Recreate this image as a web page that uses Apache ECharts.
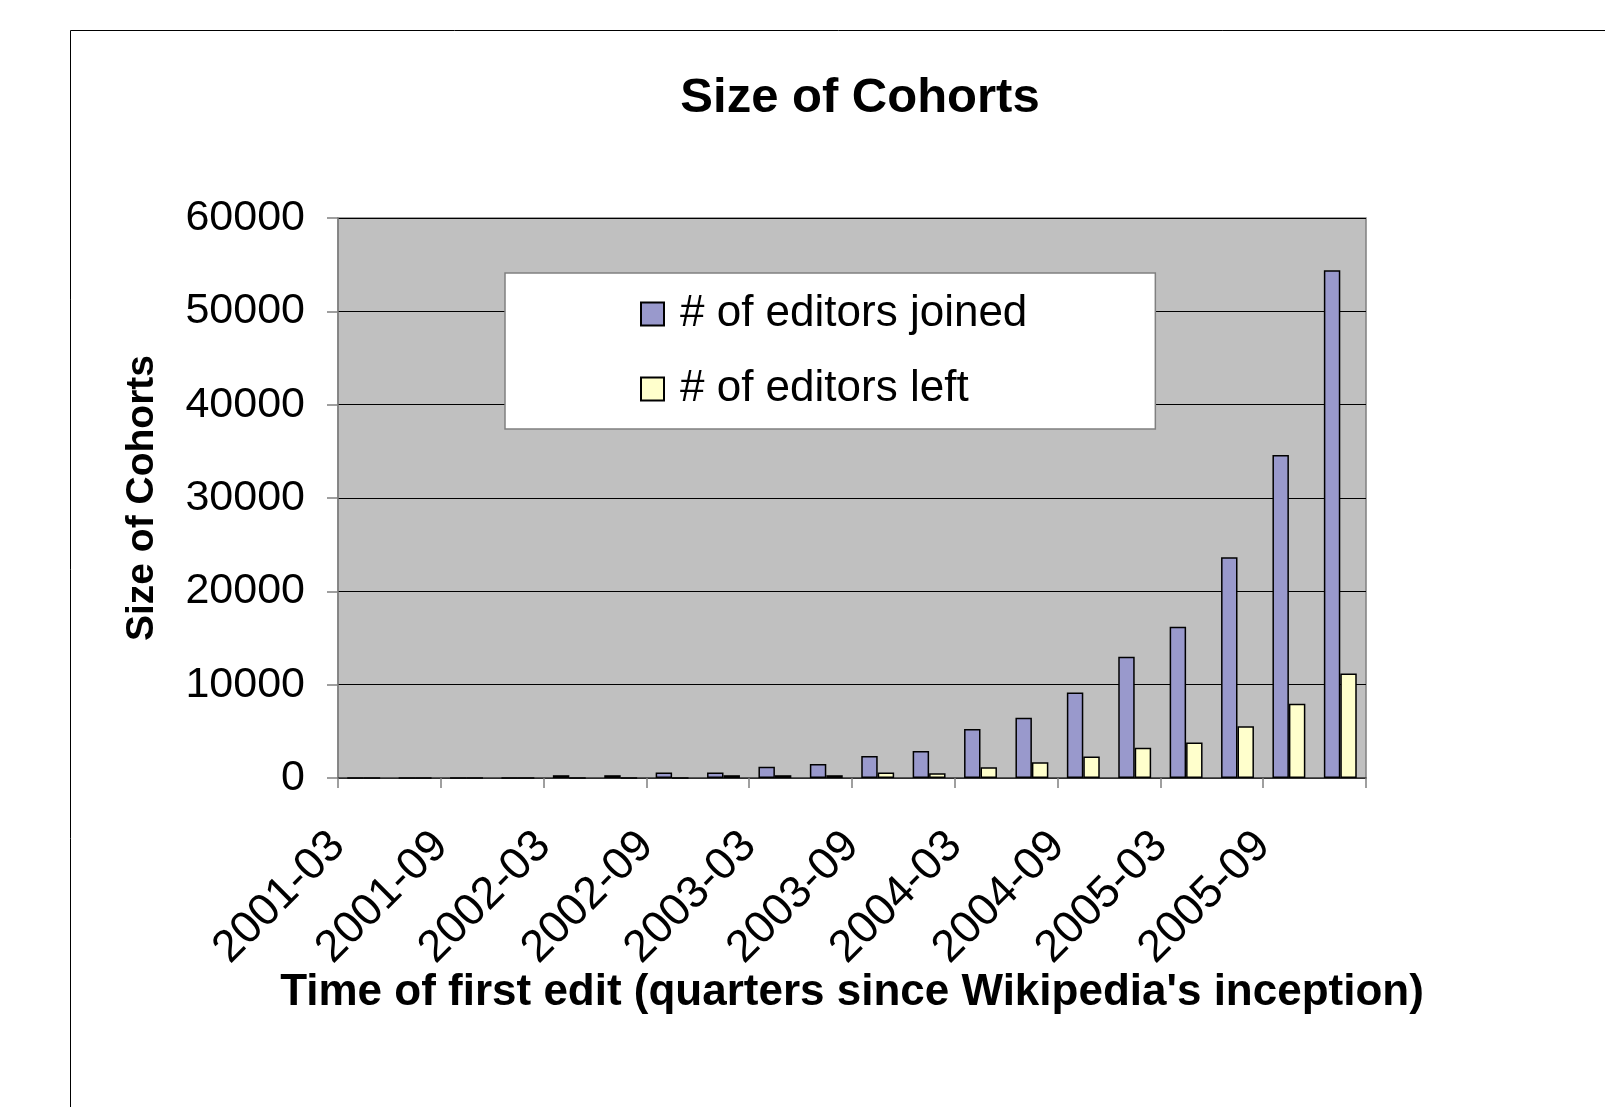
<!DOCTYPE html>
<html>
<head>
<meta charset="utf-8">
<style>
  html, body { margin: 0; padding: 0; background: #fff; }
  #chart { width: 1605px; height: 1107px; }
</style>
<script src="https://cdn.jsdelivr.net/npm/echarts@6/dist/echarts.min.js"></script>
</head>
<body>
<div id="chart"></div>
<script>
// ---- data ----
const quarters = ['2001-03','2001-06','2001-09','2001-12','2002-03','2002-06','2002-09','2002-12',
                  '2003-03','2003-06','2003-09','2003-12','2004-03','2004-06','2004-09','2004-12',
                  '2005-03','2005-06','2005-09','2005-12'];
const tickLabels = ['2001-03','','2001-09','','2002-03','','2002-09','','2003-03','','2003-09','',
                    '2004-03','','2004-09','','2005-03','','2005-09','',''];
const joined = [0,0,0,0,300,300,600,600,1200,1500,2350,2900,5250,6450,9150,13000,16200,23650,34600,54400];
const left   = [0,0,0,0,0,0,0,300,300,300,600,500,1150,1700,2300,3250,3800,5550,7950,11200];
const yTicks = { min: 0, max: 60000, interval: 10000 };

const FONT = '"Liberation Sans", Arial, sans-serif';
const chart = echarts.init(document.getElementById('chart'), null, { renderer: 'canvas' });

chart.setOption({
  animation: false,
  backgroundColor: '#ffffff',
  textStyle: { fontFamily: FONT, color: '#000' },
  title: {
    text: 'Size of Cohorts',
    left: 860, top: 74, padding: 0,
    textAlign: 'center',
    textStyle: { fontFamily: FONT, fontSize: 49, fontWeight: 'bold', color: '#000' }
  },
  graphic: [{
    type: 'rect', silent: true, z: -1,
    shape: { x: 70.5, y: 30.5, width: 1700, height: 1300 },
    style: { fill: null, stroke: '#000', lineWidth: 1 }
  }],
  legend: {
    orient: 'vertical',
    left: 505, top: 273,
    padding: [18, 128, 17, 135],
    backgroundColor: '#ffffff',
    borderColor: '#808080', borderWidth: 1.5,
    itemWidth: 23, itemHeight: 23, itemGap: 29,
    icon: 'rect',
    textStyle: { fontFamily: FONT, fontSize: 44, lineHeight: 46, color: '#000', padding: [0, 0, 0, 11] },
    data: ['# of editors joined', '# of editors left']
  },
  grid: {
    left: 338, right: 239, top: 218, bottom: 329,
    show: true, backgroundColor: '#C0C0C0', borderColor: '#808080', borderWidth: 1.5
  },
  xAxis: [{
    type: 'category',
    data: quarters,
    boundaryGap: true,
    name: "Time of first edit (quarters since Wikipedia's inception)",
    nameLocation: 'middle', nameGap: 193,
    nameTextStyle: { fontFamily: FONT, fontSize: 44, fontWeight: 'bold', color: '#000' },
    axisLine: { show: true, lineStyle: { color: '#404040', width: 1.5 } },
    axisTick: { show: true, length: 10, lineStyle: { color: '#808080', width: 1.5 } },
    axisLabel: { show: false },
    splitLine: { show: false }
  }, {
    type: 'category',
    data: tickLabels,
    boundaryGap: false,
    position: 'bottom',
    axisLine: { show: false },
    axisTick: { show: false },
    splitLine: { show: false },
    axisLabel: { show: true, interval: 0, rotate: 45, margin: 61, fontFamily: FONT, fontSize: 45, color: '#000' }
  }],
  yAxis: {
    type: 'value',
    min: yTicks.min, max: yTicks.max, interval: yTicks.interval,
    name: 'Size of Cohorts',
    nameLocation: 'middle', nameGap: 176,
    nameTextStyle: { fontFamily: FONT, fontSize: 39, fontWeight: 'bold', color: '#000' },
    axisLine: { show: true, lineStyle: { color: '#808080', width: 1.5 } },
    axisTick: { show: true, length: 11, lineStyle: { color: '#808080', width: 1.5 } },
    axisLabel: { fontFamily: FONT, fontSize: 43, color: '#000', margin: 33, formatter: v => String(v) },
    splitLine: { show: true, lineStyle: { color: '#000', width: 1 } }
  },
  series: [{
    name: '# of editors joined',
    type: 'bar',
    xAxisIndex: 0,
    data: joined,
    barGap: '0%', barCategoryGap: '36%',
    itemStyle: { color: '#9999CC', borderColor: '#000', borderWidth: 1.5 }
  }, {
    name: '# of editors left',
    type: 'bar',
    xAxisIndex: 0,
    data: left,
    itemStyle: { color: '#FFFFCC', borderColor: '#000', borderWidth: 1.5 }
  }]
});
</script>
</body>
</html>
